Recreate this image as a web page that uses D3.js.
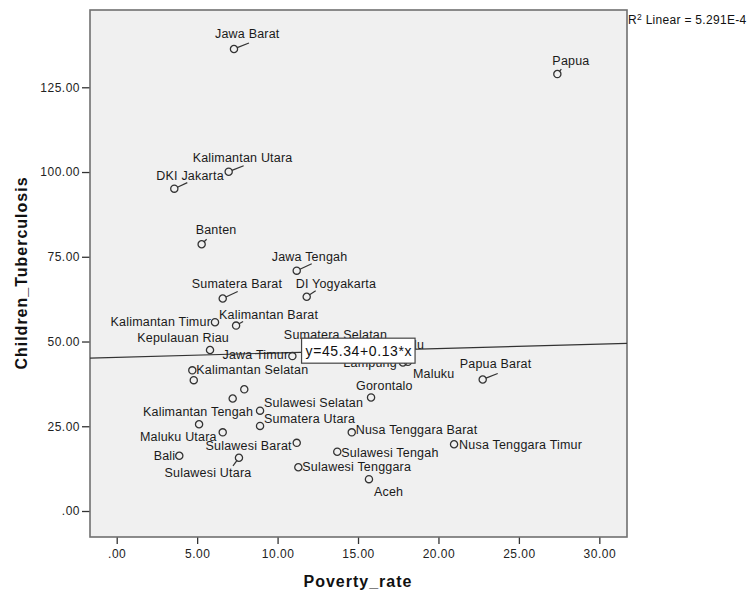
<!DOCTYPE html>
<html>
<head>
<meta charset="utf-8">
<script src="https://cdn.jsdelivr.net/npm/d3@7"></script>
<style>
  body { margin: 0; background: #fff; }
  text { font-family: "Liberation Sans", Arial, sans-serif; }
</style>
</head>
<body>
<div class="chart-container"></div>
<script>
//! DATA
const provinces = [
  'Aceh', 'Sumatera Utara', 'Sumatera Barat', 'Riau', 'Jambi', 'Sumatera Selatan',
  'Bengkulu', 'Lampung', 'Kepulauan Bangka Belitung', 'Kepulauan Riau', 'DKI Jakarta',
  'Jawa Barat', 'Jawa Tengah', 'DI Yogyakarta', 'Jawa Timur', 'Banten', 'Bali',
  'Nusa Tenggara Barat', 'Nusa Tenggara Timur', 'Kalimantan Barat', 'Kalimantan Tengah',
  'Kalimantan Selatan', 'Kalimantan Timur', 'Kalimantan Utara', 'Sulawesi Utara',
  'Sulawesi Tengah', 'Sulawesi Selatan', 'Sulawesi Tenggara', 'Gorontalo',
  'Sulawesi Barat', 'Maluku', 'Maluku Utara', 'Papua Barat', 'Papua'
];
const povertyRate = [
  15.68, 8.91, 6.59, 7.21, 7.93, 13.6,
  15.4, 17.79, 4.79, 5.80, 3.58,
  7.29, 11.19, 11.81, 10.92, 5.28, 3.89,
  14.61, 20.97, 7.42, 5.12,
  4.70, 6.11, 6.96, 7.60,
  13.71, 8.91, 11.29, 15.81,
  11.19, 18.1, 6.59, 22.75, 27.39
];
const childrenTB = [
  9.4, 25.1, 62.7, 33.2, 35.9, 46.9,
  49.0, 43.8, 38.6, 47.5, 95.1,
  136.3, 70.9, 63.2, 45.7, 78.7, 16.3,
  23.2, 19.7, 54.7, 25.6,
  41.5, 55.7, 100.1, 15.7,
  17.5, 29.6, 12.9, 33.5,
  20.1, 44.0, 23.2, 38.8, 128.9
];
const xTicks = [0, 5, 10, 15, 20, 25, 30];
const yTicks = [0, 25, 50, 75, 100, 125];
const fitIntercept = 45.34;
const fitSlope = 0.13;
const rSquared = '5.291E-4';

//! LABEL PLACEMENT (px offsets from the marker, anchor, optional leader end)
const labelPos = {
  'Jawa Barat': [-19, -11, 'start', [15, -6]],
  'Papua': [-5, -9, 'start', [4, -5]],
  'Kalimantan Utara': [-36, -10, 'start', [15, -6]],
  'DKI Jakarta': [-18, -9, 'start', [13, -6]],
  'Banten': [-6, -10, 'start', [5, -5]],
  'Jawa Tengah': [-25, -10, 'start', [15, -7]],
  'Sumatera Barat': [-31, -10, 'start', [15, -7]],
  'DI Yogyakarta': [-11, -9, 'start', [9, -6]],
  'Kalimantan Timur': [-4, 4, 'end'],
  'Kalimantan Barat': [-17, -7, 'start', [7, -4]],
  'Kepulauan Riau': [19, -8, 'end'],
  'Jawa Timur': [-4, 3, 'end'],
  'Sumatera Selatan': [0, -13, 'middle'],
  'Bengkulu': [6, 4, 'start'],
  'Lampung': [-6, 4, 'end'],
  'Maluku': [5, 16, 'start'],
  'Papua Barat': [-23, -11, 'start', [15, -6]],
  'Gorontalo': [-15, -7, 'start'],
  'Sulawesi Selatan': [4, -4, 'start'],
  'Sumatera Utara': [4, -3, 'start'],
  'Kalimantan Tengah': [-1, -8, 'middle'],
  'Maluku Utara': [-6, 9, 'end'],
  'Sulawesi Barat': [-5, 7, 'end'],
  'Bali': [-4, 4, 'end'],
  'Sulawesi Utara': [-31, 19, 'middle', [-6, 8]],
  'Sulawesi Tenggara': [4, 4, 'start'],
  'Aceh': [5, 17, 'start'],
  'Sulawesi Tengah': [4, 5, 'start'],
  'Nusa Tenggara Barat': [4, 2, 'start'],
  'Nusa Tenggara Timur': [5, 5, 'start'],
  'Kalimantan Selatan': [4, 4, 'start']
};

//! CONSTS
const width = 750;
const height = 594;
const plot = { left: 90, right: 627, top: 10, bottom: 537 };

const dataset = provinces.map((p, i) => ({ name: p, x: povertyRate[i], y: childrenTB[i] }));

//! SVG
const svg = d3.select('.chart-container')
  .append('svg')
  .attr('width', width)
  .attr('height', height);

//! SCALES
const xScale = d3.scaleLinear()
  .domain([-1.66, 31.72])
  .range([plot.left, plot.right]);
const yScale = d3.scaleLinear()
  .domain([-7.67, 147.8])
  .range([plot.bottom, plot.top]);

const fmt = (d) => d === 0 ? '.00' : d.toFixed(2);

//! PLOT AREA
svg.append('rect')
  .attr('x', plot.left)
  .attr('y', plot.top)
  .attr('width', plot.right - plot.left)
  .attr('height', plot.bottom - plot.top)
  .attr('fill', '#f0f0f0');

//! AXES
const xAxis = svg.append('g')
  .attr('transform', `translate(0,${plot.bottom})`)
  .call(d3.axisBottom(xScale).tickValues(xTicks).tickFormat(fmt).tickSizeOuter(0).tickSize(7).tickPadding(5));
const yAxis = svg.append('g')
  .attr('transform', `translate(${plot.left},0)`)
  .call(d3.axisLeft(yScale).tickValues(yTicks).tickFormat(fmt).tickSizeOuter(0).tickSize(8).tickPadding(2));

[xAxis, yAxis].forEach((ax) => {
  ax.select('.domain').remove();
  ax.selectAll('line').attr('stroke', '#333').attr('stroke-width', 1.3);
  ax.selectAll('text')
    .attr('fill', '#222')
    .style('font-size', '12px')
    .style('letter-spacing', '0.5px')
    .style('font-family', '"Liberation Sans", Arial, sans-serif');
});

svg.append('rect')
  .attr('x', plot.left)
  .attr('y', plot.top)
  .attr('width', plot.right - plot.left)
  .attr('height', plot.bottom - plot.top)
  .attr('fill', 'none')
  .attr('stroke', '#707070')
  .attr('stroke-width', 1.6);

//! AXIS TITLES
svg.append('text')
  .attr('x', 358)
  .attr('y', 587)
  .attr('text-anchor', 'middle')
  .style('font-size', '16px')
  .style('letter-spacing', '1px')
  .style('font-weight', 'bold')
  .attr('fill', '#111')
  .text('Poverty_rate');

svg.append('text')
  .attr('transform', 'translate(27,273) rotate(-90)')
  .attr('text-anchor', 'middle')
  .style('font-size', '16px')
  .style('letter-spacing', '1px')
  .style('font-weight', 'bold')
  .attr('fill', '#111')
  .text('Children_Tuberculosis');

//! FIT LINE
const xDom = xScale.domain();
svg.append('line')
  .attr('x1', xScale(xDom[0]))
  .attr('y1', yScale(fitIntercept + fitSlope * xDom[0]))
  .attr('x2', xScale(xDom[1]))
  .attr('y2', yScale(fitIntercept + fitSlope * xDom[1]))
  .attr('stroke', '#333')
  .attr('stroke-width', 1.2);

//! POINTS
const pts = svg.append('g')
  .selectAll('g')
  .data(dataset)
  .enter()
  .append('g')
  .attr('transform', (d) => `translate(${xScale(d.x)},${yScale(d.y)})`);

pts.filter((d) => labelPos[d.name] && labelPos[d.name][3])
  .append('line')
  .attr('x1', (d) => { const l = labelPos[d.name][3]; return l[0] * 3.5 / Math.hypot(l[0], l[1]); })
  .attr('y1', (d) => { const l = labelPos[d.name][3]; return l[1] * 3.5 / Math.hypot(l[0], l[1]); })
  .attr('x2', (d) => labelPos[d.name][3][0])
  .attr('y2', (d) => labelPos[d.name][3][1])
  .attr('stroke', '#333')
  .attr('stroke-width', 1.2);

pts.append('circle')
  .attr('r', 3.6)
  .attr('fill', 'none')
  .attr('stroke', '#333')
  .attr('stroke-width', 1.3);

pts.filter((d) => labelPos[d.name])
  .append('text')
  .attr('x', (d) => labelPos[d.name][0])
  .attr('y', (d) => labelPos[d.name][1])
  .attr('text-anchor', (d) => labelPos[d.name][2])
  .style('font-size', '12.5px')
  .style('letter-spacing', '0.2px')
  .attr('fill', '#1a1a1a')
  .text((d) => d.name);

//! EQUATION BOX
const eqX = 15.05;
const eqG = svg.append('g')
  .attr('transform', `translate(${xScale(eqX)},${yScale(fitIntercept + fitSlope * eqX)})`);
const eqRect = eqG.append('rect');
const eqText = eqG.append('text')
  .attr('text-anchor', 'middle')
  .attr('dy', '0.36em')
  .style('font-size', '14px')
  .style('letter-spacing', '0.6px')
  .attr('fill', '#111')
  .text(`y=${fitIntercept}+${fitSlope}*x`);
const bb = eqText.node().getBBox();
eqRect
  .attr('x', bb.x - 4)
  .attr('y', -12.5)
  .attr('width', bb.width + 7)
  .attr('height', 25)
  .attr('fill', '#fff')
  .attr('stroke', '#444')
  .attr('stroke-width', 1.2);

//! R SQUARED
const r2 = svg.append('text')
  .attr('x', 628)
  .attr('y', 24)
  .style('font-size', '12px')
  .style('letter-spacing', '0.3px')
  .attr('fill', '#111');
r2.append('tspan').text('R');
r2.append('tspan').attr('dy', -4).style('font-size', '8.5px').text('2');
r2.append('tspan').attr('dy', 4).text(` Linear = ${rSquared}`);
</script>
</body>
</html>
